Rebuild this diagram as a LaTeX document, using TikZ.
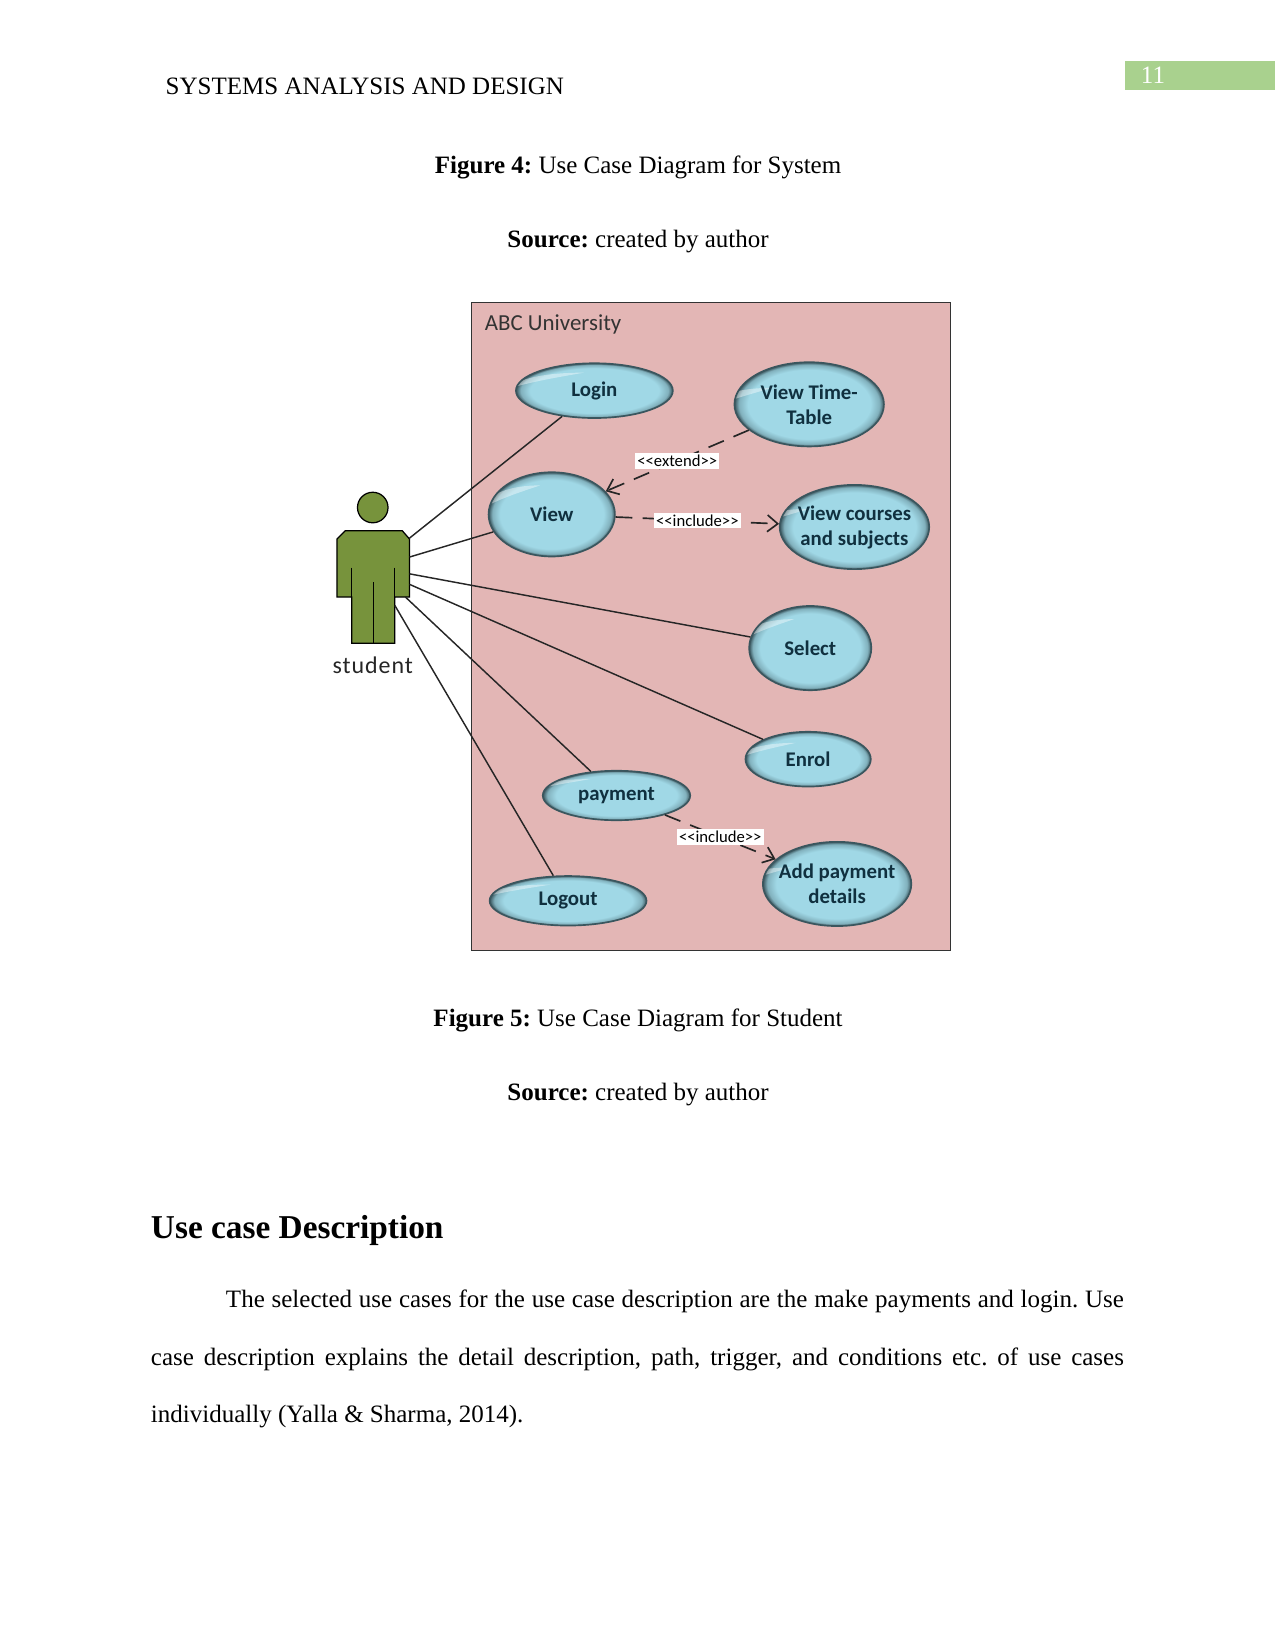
\documentclass[tikz,border=0pt]{standalone}
\usepackage{fontspec}
\setmainfont{Liberation Serif}
\newfontfamily\ucfont{Carlito}
\usetikzlibrary{shapes.geometric}
\usetikzlibrary{arrows.meta}
\definecolor{boxpink}{HTML}{E3B6B5}
\definecolor{ucblue}{HTML}{A0D8E6}
\definecolor{ucedge}{HTML}{3A565E}
\definecolor{uctext}{HTML}{10303F}
\definecolor{actorgreen}{HTML}{77933C}
\definecolor{pagegreen}{HTML}{A9D18E}
\pgfdeclareradialshading{ucball}{\pgfpoint{0bp}{0bp}}{
	color(0bp)=(ucblue); color(20.5bp)=(ucblue); color(23.5bp)=(ucblue!70!ucedge); color(25bp)=(ucedge); color(50bp)=(ucedge)}
\tikzset{
	usecase/.style 2 args={ellipse, draw=ucedge, line width=0.8pt, shade, shading=ucball, inner sep=-8pt,
		minimum width=#1*0.5054pt, minimum height=#2*0.5054pt, align=center, text=uctext,
		font=\ucfont\bfseries\fontsize{10}{12}\selectfont,
		path picture={
			% light streak along the upper left rim
			\begin{scope}[shift={(path picture bounding box.center)}]
				\fill[white, opacity=0.4] (-0.44*#1,-0.1*#2) .. controls (-0.34*#1,-0.34*#2) and (-0.15*#1,-0.43*#2) .. (0.08*#1,-0.43*#2)
				.. controls (-0.12*#1,-0.33*#2) and (-0.3*#1,-0.24*#2) .. cycle;
			\end{scope}
		}},
	stereo/.style={fill=white, inner sep=1pt, font=\ucfont\fontsize{8}{9}\selectfont, text=black},
	captiontext/.style={anchor=base, font=\fontsize{12}{14}\selectfont},
	actor/.style={draw=black, line width=0.6pt, fill=actorgreen},
}

\begin{document}
\frenchspacing
\begin{tikzpicture}[x=0.5054pt, y=-0.5054pt]
	\useasboundingbox (0,0) rectangle (1211,1568);
	
	% running head
	\node (head) [anchor=base west, inner sep=0pt, font=\fontsize{12}{14}\selectfont] at (157,90) {SYSTEMS ANALYSIS AND DESIGN};
	\fill[pagegreen] (1068,58) rectangle (1211,85);
	\node (pageno) [anchor=base, inner sep=0pt, text=white, font=\fontsize{12}{14}\selectfont] at (1095,79) {11};
	
	% captions
	\node (fig4) [captiontext] at (606,165) {\textbf{Figure 4:} Use Case Diagram for System};
	\node (src4) [captiontext] at (606,235) {\textbf{Source:} created by author};
	\node (fig5) [captiontext] at (606,975) {\textbf{Figure 5:} Use Case Diagram for Student};
	\node (src5) [captiontext] at (606,1045) {\textbf{Source:} created by author};
	
	% system boundary
	\node (system) [draw=black!80, line width=0.6pt, fill=boxpink, minimum width=455*0.5054pt, minimum height=616*0.5054pt, inner sep=0pt] at (675.5,595) {};
	\node (systemname) [anchor=base west, inner sep=0pt, font=\ucfont\fontsize{11}{12}\selectfont, text=black!80] at (460,314) {ABC University};
	
	% the student
	\node (headball) [circle, actor, minimum size=29*0.5054pt, inner sep=0pt] at (354,482) {};
	\draw[actor] (320,512) -- (328,504) -- (382,504) -- (389,512) -- (389,567) -- (375,567) -- (375,611) -- (334,611) -- (334,567) -- (320,567) -- cycle;
	\draw[line width=0.6pt] (334,539) -- (334,567);
	\draw[line width=0.6pt] (375,539) -- (375,567);
	\draw[line width=0.6pt] (354.5,553) -- (354.5,611);
	\node (student) [inner sep=0pt, font=\ucfont\fontsize{11.5}{13}\selectfont, text=black!85] at (354,632) {\addfontfeature{LetterSpace=4}student};
	
	\coordinate (a1) at (389,511);
	\coordinate (a2) at (389,529);
	\coordinate (a3) at (389,545);
	\coordinate (a4) at (389,555);
	\coordinate (a5) at (385,567);
	\coordinate (a6) at (375,575);
	
	% use cases
	\node (login) [usecase={149}{52}] at (564.5,371) {Login};
	\node (timetable) [usecase={142}{80}] at (768.5,384) {View Time-\\Table};
	\node (view) [usecase={120}{80}] at (524,488.5) {View};
	\node (courses) [usecase={142}{80}] at (811.5,500.5) {View courses\\and subjects};
	\node (select) [usecase={116}{80}] at (769.5,615.5) {Select};
	\node (enrol) [usecase={119}{52}] at (767.5,721) {Enrol};
	\node (payment) [usecase={140}{47}] at (585.5,755.5) {payment};
	\node (details) [usecase={141}{80}] at (795,839.5) {Add payment\\details};
	\node (logout) [usecase={149}{47}] at (539.5,855.5) {Logout};
	
	\begin{scope}[line width=0.7pt, black!85]
		\draw (a1) -- (login);
		\draw (a2) -- (view);
		\draw (a3) -- (select);
		\draw (a4) -- (enrol);
		\draw (a5) -- (payment);
		\draw (a6) -- (logout);
	\end{scope}
	
	\begin{scope}[line width=0.8pt, black!85, dash pattern=on 8pt off 5pt, ->, >={Straight Barb[length=5pt, width=8pt]}]
		\draw (timetable) -- node (extendlabel) [stereo, solid] {<{}<extend>{}>} (view);
		\draw (view) -- node (includelabel) [stereo, solid] {<{}<include>{}>} (courses);
		\draw (payment) -- node (paylabel) [stereo, solid] {<{}<include>{}>} (details);
	\end{scope}
	
	% section text
	\node (section) [anchor=base west, inner sep=0pt, font=\bfseries\fontsize{16}{19}\selectfont] at (143,1176) {Use case Description};
	\node (para) [anchor=north west, inner sep=0pt, text width=924*0.5054pt, align=justify, font=\fontsize{12}{27.5}\selectfont] at (143,1225)
		{\hspace*{36pt}The selected use cases for the use case description are the make payments and login. Use\linebreak case description explains the detail description, path, trigger, and conditions etc. of use cases\linebreak individually (Yalla \& Sharma, 2014).};
	
\end{tikzpicture}
\end{document}
